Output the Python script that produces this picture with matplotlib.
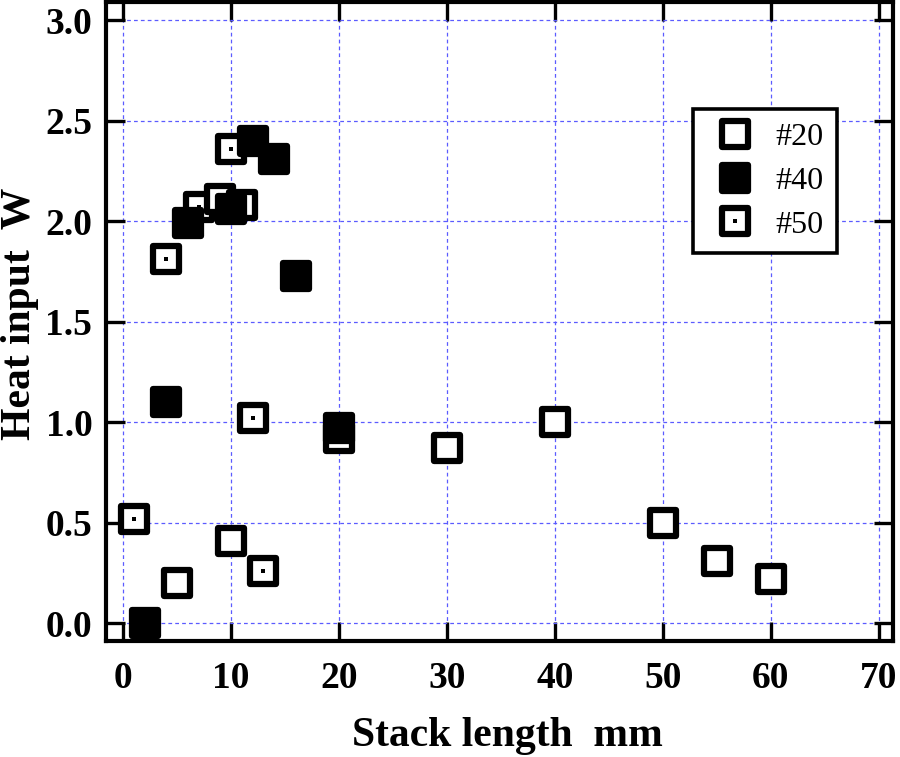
import matplotlib
matplotlib.use('Agg')
import matplotlib.pyplot as plt
from matplotlib.markers import MarkerStyle
from matplotlib.lines import Line2D

# data (stack length mm, heat input W)
x20 = [5, 10, 20, 30, 40, 50, 55, 60]
y20 = [0.20, 0.41, 0.92, 0.87, 1.00, 0.50, 0.31, 0.22]

x40 = [2, 4, 6, 10, 12, 14, 16, 20]
y40 = [0.00, 1.10, 1.99, 2.06, 2.40, 2.31, 1.73, 0.97]

x50 = [1, 4, 7, 9, 10, 11, 12, 13]
y50 = [0.52, 1.81, 2.07, 2.11, 2.36, 2.08, 1.02, 0.26]

labels = ['#20', '#40', '#50']

plt.rcParams['font.family'] = ['Liberation Serif', 'DejaVu Serif']

fig = plt.figure(figsize=(9, 7.57), dpi=100)
ax = fig.add_axes([0.118, 0.153, 0.874, 0.844])

sq = MarkerStyle('s', joinstyle='round')
ms = 19
mew = 4.5

open_kw = dict(ls='none', marker=sq, ms=ms, mew=mew, mec='black', mfc='white')
dot_kw = dict(ls='none', marker='s', ms=3, mew=0, mfc='black')
fill_kw = dict(ls='none', marker=sq, ms=ms, mew=mew, mec='black', mfc='black')

ax.plot(x20, y20, **open_kw, zorder=3)
ax.plot(x50, y50, **open_kw, zorder=4)
ax.plot(x50, y50, **dot_kw, zorder=4)
ax.plot(x40, y40, **fill_kw, zorder=5)

ax.set_xlim(-1.55, 71.3)
ax.set_ylim(-0.09, 3.09)
ax.set_xticks(range(0, 71, 10))
ax.set_yticks([0, 0.5, 1.0, 1.5, 2.0, 2.5, 3.0])
ax.set_yticklabels(['0.0', '0.5', '1.0', '1.5', '2.0', '2.5', '3.0'])

ax.grid(True, color='#5b5bff', ls=(0, (3, 2.5)), lw=0.9)
ax.set_axisbelow(True)

for s in ax.spines.values():
    s.set_linewidth(3)
ax.tick_params(direction='in', length=14, width=2.4, top=True, right=True,
               labelsize=27)
ax.tick_params(axis='x', pad=14)
ax.tick_params(axis='y', pad=10)
for t in ax.get_xticklabels() + ax.get_yticklabels():
    t.set_fontweight('bold')

ax.set_xlabel('Stack length  mm', fontsize=30, fontweight='bold')
ax.set_ylabel('Heat input  W', fontsize=30, fontweight='bold')
ax.xaxis.set_label_coords(0.51, -0.118)
ax.yaxis.set_label_coords(-0.085, 0.512)

h20 = Line2D([], [], **open_kw)
h40 = Line2D([], [], **fill_kw)
h50 = (Line2D([], [], **open_kw), Line2D([], [], **dot_kw))
leg = ax.legend([h20, h40, h50], labels, loc='upper right',
                bbox_to_anchor=(0.929, 0.833), borderaxespad=0,
                fontsize=23, frameon=True, fancybox=False, framealpha=1,
                edgecolor='black', handletextpad=0.35, labelspacing=0.45,
                borderpad=0.43, handlelength=1.8)
leg.get_frame().set_linewidth(2.6)

fig.savefig('out.png', dpi=100)
